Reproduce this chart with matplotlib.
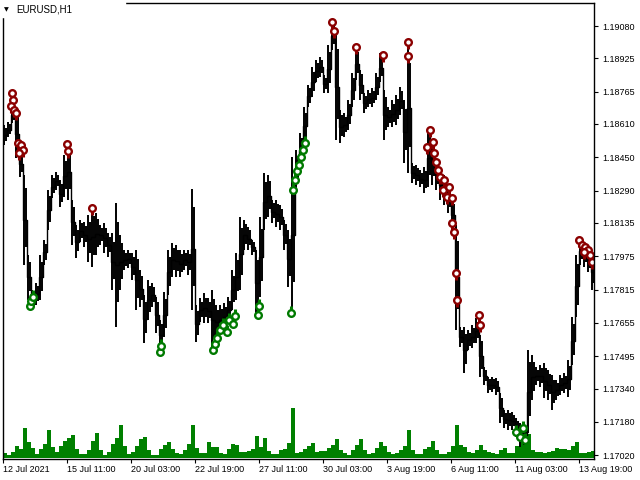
import numpy as np
import matplotlib.pyplot as plt
from matplotlib.patches import Rectangle

plt.rcParams['font.family'] = ['Liberation Sans', 'DejaVu Sans']

symbol = "EURUSD,H1"

# 4-hour groups of the H1 chart: highest and lowest price seen in each group
high = [1.18605, 1.18619, 1.18691, 1.18677, 1.18485, 1.18365, 1.17981, 1.17813, 1.17846, 1.17981,
        1.18053, 1.18293, 1.18365, 1.18379, 1.18341, 1.18461, 1.18518, 1.18245, 1.18125, 1.18149,
        1.18139, 1.18173, 1.18211, 1.18182, 1.18125, 1.18134, 1.18086, 1.18086, 1.18230, 1.18077,
        1.18005, 1.18005, 1.17990, 1.18005, 1.17909, 1.17789, 1.17861, 1.17846, 1.17779, 1.17669,
        1.17803, 1.18005, 1.18038, 1.18029, 1.18005, 1.18005, 1.18005, 1.18298, 1.17741, 1.17774,
        1.17798, 1.17774, 1.17813, 1.17741, 1.17741, 1.17750, 1.17779, 1.17909, 1.17990, 1.18163,
        1.18149, 1.18115, 1.18053, 1.18005, 1.18163, 1.18374, 1.18365, 1.18245, 1.18245, 1.18221,
        1.18149, 1.18101, 1.18451, 1.18485, 1.18566, 1.18691, 1.18797, 1.18883, 1.18917, 1.18931,
        1.18845, 1.18989, 1.19099, 1.19046, 1.18677, 1.18662, 1.18725, 1.18854, 1.18979, 1.18869,
        1.18758, 1.18773, 1.18782, 1.18854, 1.18950, 1.18773, 1.18691, 1.18725, 1.18749, 1.18787,
        1.18725, 1.18998, 1.18422, 1.18413, 1.18389, 1.18403, 1.18590, 1.18533, 1.18437, 1.18389,
        1.18365, 1.18317, 1.18245, 1.18125, 1.17635, 1.17635, 1.17621, 1.17645, 1.17678, 1.17597,
        1.17443, 1.17395, 1.17395, 1.17390, 1.17318, 1.17237, 1.17237, 1.17227, 1.17198, 1.17174,
        1.17165, 1.17525, 1.17501, 1.17443, 1.17453, 1.17462, 1.17429, 1.17405, 1.17381, 1.17405,
        1.17414, 1.17477, 1.17683, 1.17981, 1.18067, 1.18038, 1.18005, 1.17981]
low = [1.18509, 1.18547, 1.18614, 1.18446, 1.18355, 1.17933, 1.17765, 1.17717, 1.17741, 1.17765,
       1.17933, 1.18101, 1.18254, 1.18293, 1.18211, 1.18259, 1.18245, 1.18029, 1.17966, 1.18043,
       1.18019, 1.17947, 1.17923, 1.17981, 1.18029, 1.17990, 1.17971, 1.17813, 1.17635, 1.17813,
       1.17909, 1.17918, 1.17861, 1.17717, 1.17731, 1.17558, 1.17669, 1.17731, 1.17606, 1.17525,
       1.17587, 1.17789, 1.17875, 1.17875, 1.17875, 1.17909, 1.17885, 1.17717, 1.17563, 1.17659,
       1.17654, 1.17654, 1.17525, 1.17573, 1.17597, 1.17621, 1.17654, 1.17717, 1.17765, 1.17813,
       1.18005, 1.18005, 1.17981, 1.17683, 1.17779, 1.18101, 1.18163, 1.18134, 1.18115, 1.18101,
       1.18005, 1.17827, 1.17702, 1.18293, 1.18403, 1.18509, 1.18691, 1.18739, 1.18811, 1.18835,
       1.18758, 1.18758, 1.18965, 1.18533, 1.18518, 1.18547, 1.18581, 1.18691, 1.18821, 1.18725,
       1.18662, 1.18691, 1.18691, 1.18725, 1.18811, 1.18533, 1.18595, 1.18595, 1.18605, 1.18653,
       1.18422, 1.18374, 1.18326, 1.18317, 1.18307, 1.18278, 1.18307, 1.18317, 1.18293, 1.18245,
       1.18221, 1.18182, 1.18101, 1.17621, 1.17539, 1.17414, 1.17525, 1.17534, 1.17558, 1.17395,
       1.17357, 1.17318, 1.17323, 1.17309, 1.17174, 1.17150, 1.17141, 1.17141, 1.17107, 1.17059,
       1.17069, 1.17126, 1.17285, 1.17357, 1.17347, 1.17294, 1.17285, 1.17237, 1.17285, 1.17309,
       1.17318, 1.17299, 1.17453, 1.17683, 1.17933, 1.17923, 1.17899, 1.17813]
# tick volume per group (scale only, no axis shown)
volume = [500, 300, 600, 1200, 900, 3000, 1600, 1000, 400, 900,
          1400, 2800, 1100, 600, 1200, 1700, 2000, 2300, 900, 400,
          400, 800, 1700, 2500, 800, 300, 600, 1400, 2000, 3300,
          1200, 400, 600, 1200, 1900, 2100, 800, 300, 300, 900,
          1300, 1600, 900, 500, 400, 800, 1400, 3300, 1000, 500,
          500, 1600, 1100, 1100, 500, 400, 900, 1400, 1300, 600,
          600, 700, 900, 2200, 1100, 2000, 700, 400, 400, 800,
          900, 1500, 5000, 500, 600, 900, 1200, 1500, 600, 700,
          700, 1000, 1300, 1900, 800, 500, 300, 800, 1300, 1900,
          800, 400, 500, 1000, 1600, 1200, 600, 400, 500, 800,
          1200, 2800, 800, 400, 400, 900, 1100, 1700, 800, 400,
          400, 600, 1200, 3300, 1300, 1100, 600, 500, 800, 1300,
          800, 600, 500, 400, 800, 1000, 500, 500, 1200, 2000,
          2500, 2400, 800, 600, 600, 500, 600, 700, 1000, 900,
          900, 800, 1200, 1600, 500, 500, 600, 700]

# signal arrows (group position, price)
sell_pos = [2.25, 2.5, 2.0, 2.75, 3.25, 3.75, 4.5, 5.0, 4.0, 16.0, 16.25, 22.25,
            82.25, 82.75, 88.25, 95.0, 101.25, 101.25,
            106.75, 106.0, 107.5, 107.75, 108.25, 108.75, 109.25, 110.0, 110.25, 111.5,
            111.0, 112.25, 112.25, 112.75, 113.25, 113.5, 119.0, 119.25,
            144.0, 144.75, 145.5, 146.25, 146.75, 147.25, 145.25]
sell_price = [1.18758, 1.18725, 1.18696, 1.18677, 1.18662, 1.18518, 1.18509, 1.18485, 1.18470,
              1.18514, 1.18480, 1.18206,
              1.19099, 1.19056, 1.18979, 1.18941, 1.19003, 1.18936,
              1.18581, 1.18499, 1.18523, 1.18470, 1.18427, 1.18389, 1.18355, 1.18293, 1.18341,
              1.18307, 1.18259, 1.18254, 1.18134, 1.18091, 1.17894, 1.17765, 1.17693, 1.17645,
              1.18053, 1.18029, 1.18019, 1.18005, 1.17981, 1.17947, 1.17995]
buy_pos = [6.75, 7.0, 7.5, 39.25, 39.5, 52.5, 53.0, 53.5, 54.25, 55.0, 56.0, 56.5, 57.5, 58.0,
           63.75, 64.0, 72.0, 72.5, 73.0, 73.5, 74.0, 74.5, 75.0, 75.5,
           128.25, 129.25, 130.0, 130.5]
buy_price = [1.17736, 1.17760, 1.17779, 1.17515, 1.17544, 1.17525, 1.17554, 1.17582, 1.17621,
             1.17645, 1.17611, 1.17669, 1.17650, 1.17688, 1.17693, 1.17736, 1.17702, 1.18293,
             1.18341, 1.18384, 1.18413, 1.18451, 1.18485, 1.18518,
             1.17131, 1.17107, 1.17150, 1.17093]

price_ticks = [1.19080, 1.18925, 1.18765, 1.18610, 1.18450, 1.18290, 1.18135,
               1.17975, 1.17815, 1.17655, 1.17495, 1.17340, 1.17180, 1.17020]
time_labels = ["12 Jul 2021", "15 Jul 11:00", "20 Jul 03:00", "22 Jul 19:00", "27 Jul 11:00",
               "30 Jul 03:00", "3 Aug 19:00", "6 Aug 11:00", "11 Aug 03:00", "13 Aug 19:00"]

high = np.array(high)
low = np.array(low)
idx = np.arange(len(high))

fig = plt.figure(figsize=(6.4, 4.8), dpi=100)
fig.set_facecolor('white')
ax = fig.add_axes([2.5 / 640, 1 - 459 / 480, 591.5 / 640, 456.5 / 480])
axv = ax.twinx()
ax.set_zorder(2)
ax.patch.set_visible(False)
axv.set_zorder(1)

# volumes at the bottom
axv.bar(idx, volume, width=1.0, align='edge', color='#008000', linewidth=0)
axv.set_ylim(-100, 45650)
axv.set_yticks([])
for s in axv.spines.values():
    s.set_visible(False)

# price: thin hi-lo strokes plus a line joining them
ax.vlines(idx + 0.25, low, high, color='black', lw=1.4)
ax.vlines(idx + 0.75, low + (high - low) * 0.2, high - (high - low) * 0.15, color='black', lw=1.4)
ax.plot(idx + 0.5, (high + low) / 2, drawstyle='steps-mid', color='black', lw=1.0)

# arrows: circle + stem
red = '#8b0000'
green = '#007a00'
sp = np.array(sell_price)
bp = np.array(buy_price)
ax.plot(sell_pos, sp - 0.00018, ls='none', marker='|', ms=5, mew=2.2, color=red)
ax.plot(sell_pos, sp, ls='none', marker='o', ms=4.8, mfc='white', mec=red, mew=1.7)
ax.plot(buy_pos, bp + 0.00018, ls='none', marker='|', ms=5, mew=2.2, color=green)
ax.plot(buy_pos, bp, ls='none', marker='o', ms=4.8, mfc='white', mec=green, mew=1.7)

ax.set_xlim(-0.125, 147.75)
ax.set_ylim(1.170016, 1.191928)

ax.yaxis.tick_right()
ax.set_yticks(price_ticks)
ax.set_yticklabels([f"{p:.5f}" for p in price_ticks])
ax.tick_params(axis='y', length=3, width=0.8, pad=3, labelsize=6.5)

xt = [-0.075 + 16 * k for k in range(len(time_labels))]
ax.set_xticks(xt)
ax.set_xticklabels(time_labels)
ax.tick_params(axis='x', length=3, width=0.8, pad=1.5, labelsize=6.5)
for t in ax.get_xticklabels():
    t.set_ha('left')

for s in ax.spines.values():
    s.set_linewidth(1.0)
    s.set_color('black')

# symbol caption in the corner
fig.patches.append(Rectangle((0, 1 - 17 / 480), 125 / 640, 17 / 480,
                             transform=fig.transFigure, color='white', zorder=5))
fig.text(4 / 640, 1 - 9.5 / 480, '\u25bc', fontsize=4.5, va='center', zorder=6,
         family='DejaVu Sans')
fig.text(16 / 640, 1 - 9.5 / 480, symbol, fontsize=7, va='center', zorder=6)

fig.savefig('out.png', dpi=100)
